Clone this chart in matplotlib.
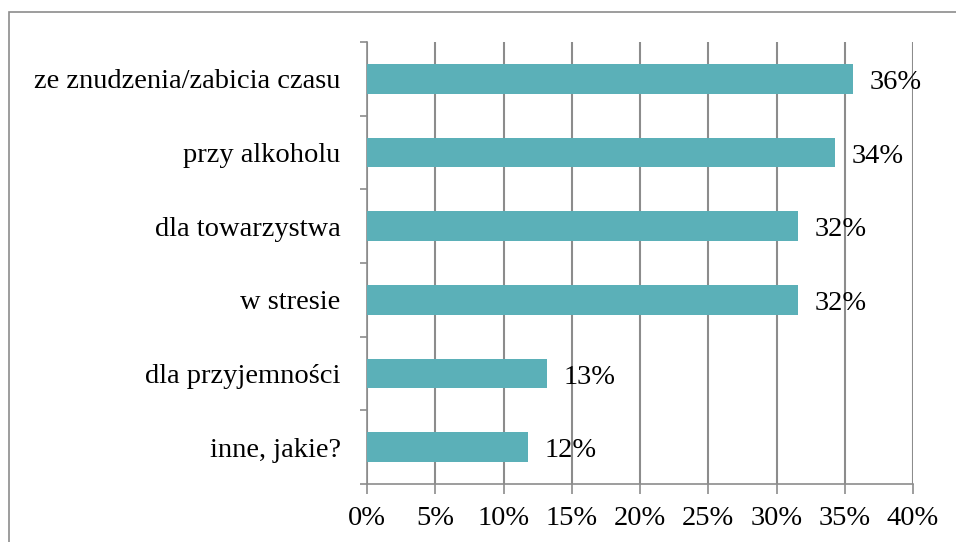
import matplotlib.pyplot as plt
from matplotlib.patches import Rectangle

categories = ['ze znudzenia/zabicia czasu', 'przy alkoholu', 'dla towarzystwa',
              'w stresie', 'dla przyjemności', 'inne, jakie?']
values = [35.6, 34.3, 31.6, 31.6, 13.2, 11.8]
labels = ['36%', '34%', '32%', '32%', '13%', '12%']
xticks = [0, 5, 10, 15, 20, 25, 30, 35, 40]

plt.rcParams['font.family'] = ['Liberation Serif', 'DejaVu Serif']
W, H = 956, 542
fig = plt.figure(figsize=(W / 100, H / 100), dpi=100)
ax = fig.add_axes([367 / W, 1 - 484 / H, (913 - 367) / W, (484 - 42) / H])

# outer frame
fig.patches.append(Rectangle((9 / W, -0.1), 1.2, 1.1 - 12 / H, transform=fig.transFigure,
                             fill=False, edgecolor='#8c8c8c', linewidth=1.2))

fs = 20.5
n = len(categories)
ypos = list(range(n))[::-1]
ax.barh(ypos, values, height=0.4, color='#5bb0b8', zorder=3)
for y, v, t in zip(ypos, values, labels):
    ax.text(v + 1.2, y - 0.05, t, va='center', ha='left', fontsize=fs, zorder=4)

ax.set_xlim(0, 40)
ax.set_ylim(-0.5, n - 0.5)
ax.set_xticks(xticks)
ax.set_xticklabels([f'{x}%' for x in xticks], fontsize=fs)
ax.set_yticks(ypos)
ax.set_yticklabels(categories, fontsize=fs)
ax.set_yticks([i - 0.5 for i in range(n + 1)], minor=True)
ax.tick_params(axis='y', which='major', length=0, pad=19)
ax.tick_params(axis='y', which='minor', length=5, color='#8c8c8c', width=1.2)
ax.tick_params(axis='x', length=7, color='#8c8c8c', width=1.2, pad=9)
ax.grid(axis='x', color='#8c8c8c', linewidth=1.5, zorder=0)
for s in ['top', 'right']:
    ax.spines[s].set_visible(False)
for s in ['left', 'bottom']:
    ax.spines[s].set_color('#8c8c8c')
    ax.spines[s].set_linewidth(1.2)

fig.savefig('out.png', dpi=100)
